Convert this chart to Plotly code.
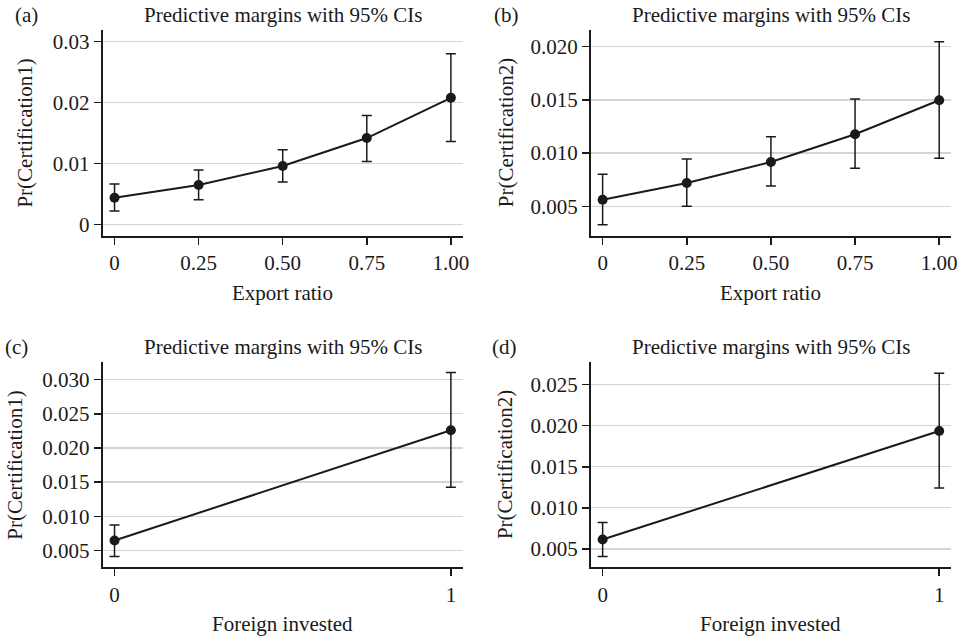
import plotly.graph_objects as go

# ---------------- data ----------------
export_x = [0, 0.25, 0.5, 0.75, 1.0]
export_ticktext = ["0", "0.25", "0.50", "0.75", "1.00"]

a_y = [0.00438, 0.00646, 0.00957, 0.01416, 0.02077]
a_hi = [0.00662, 0.00892, 0.01225, 0.01787, 0.02798]
a_lo = [0.00220, 0.00405, 0.00695, 0.01033, 0.01361]

b_y = [0.00562, 0.00719, 0.00916, 0.01177, 0.01496]
b_hi = [0.00801, 0.00945, 0.01154, 0.01508, 0.02047]
b_lo = [0.00327, 0.00500, 0.00691, 0.00857, 0.00951]

foreign_x = [0, 1]
foreign_ticktext = ["0", "1"]

c_y = [0.00646, 0.02259]
c_hi = [0.00874, 0.03107]
c_lo = [0.00412, 0.01425]

d_y = [0.00614, 0.01936]
d_hi = [0.00821, 0.02640]
d_lo = [0.00408, 0.01242]

a_ticks = [0, 0.01, 0.02, 0.03]
a_ticktext = ["0", "0.01", "0.02", "0.03"]
b_ticks = [0.005, 0.010, 0.015, 0.020]
b_ticktext = ["0.005", "0.010", "0.015", "0.020"]
c_ticks = [0.005, 0.010, 0.015, 0.020, 0.025, 0.030]
c_ticktext = ["0.005", "0.010", "0.015", "0.020", "0.025", "0.030"]
d_ticks = [0.005, 0.010, 0.015, 0.020, 0.025]
d_ticktext = ["0.005", "0.010", "0.015", "0.020", "0.025"]

panel_labels = ["(a)", "(b)", "(c)", "(d)"]
title_text = "Predictive margins with 95% CIs"
y_titles = ["Pr(Certification1)", "Pr(Certification2)", "Pr(Certification1)", "Pr(Certification2)"]
x_titles = ["Export ratio", "Export ratio", "Foreign invested", "Foreign invested"]

# ---------------- layout helpers ----------------
W, H = 973, 642
FONT = "Liberation Serif, Times New Roman, serif"
FS = 21
INK = "#1a1a1a"

def px(x):
    return x / W

def py(y):
    return 1 - y / H

panels = [
    dict(x=export_x, y=a_y, hi=a_hi, lo=a_lo, xt=export_ticktext, yt=a_ticks, ytt=a_ticktext,
         xr=[-0.035, 1.035], yr=[-0.00185, 0.0319],
         dom_x=[103.5, 466], dom_y=[30, 236], lab=(13, 15), ytx=25),
    dict(x=export_x, y=b_y, hi=b_hi, lo=b_lo, xt=export_ticktext, yt=b_ticks, ytt=b_ticktext,
         xr=[-0.0345, 1.0345], yr=[0.00224, 0.02157],
         dom_x=[595.3, 957.7], dom_y=[30, 236], lab=(496, 15), ytx=509),
    dict(x=foreign_x, y=c_y, hi=c_hi, lo=c_lo, xt=foreign_ticktext, yt=c_ticks, ytt=c_ticktext,
         xr=[-0.035, 1.035], yr=[0.00251, 0.03257],
         dom_x=[103.5, 466], dom_y=[362.7, 568.3], lab=(3, 348), ytx=15),
    dict(x=foreign_x, y=d_y, hi=d_hi, lo=d_lo, xt=foreign_ticktext, yt=d_ticks, ytt=d_ticktext,
         xr=[-0.0345, 1.0345], yr=[0.00274, 0.02775],
         dom_x=[595.3, 957.7], dom_y=[362.7, 568.3], lab=(494, 348), ytx=508),
]

fig = go.Figure()
annotations = []
layout_axes = {}

for i, p in enumerate(panels):
    n = i + 1
    xa = "x" if n == 1 else f"x{n}"
    ya = "y" if n == 1 else f"y{n}"
    err_plus = [h - v for h, v in zip(p["hi"], p["y"])]
    err_minus = [v - l for v, l in zip(p["y"], p["lo"])]
    fig.add_trace(go.Scatter(
        x=p["x"], y=p["y"], xaxis=xa, yaxis=ya,
        mode="lines+markers",
        line=dict(color=INK, width=2),
        marker=dict(color=INK, size=10),
        error_y=dict(type="data", symmetric=False, array=err_plus, arrayminus=err_minus,
                     color=INK, thickness=1.5, width=5),
        showlegend=False,
    ))
    xkey = "xaxis" if n == 1 else f"xaxis{n}"
    ykey = "yaxis" if n == 1 else f"yaxis{n}"
    layout_axes[xkey] = dict(
        domain=[px(p["dom_x"][0]), px(p["dom_x"][1])],
        range=p["xr"], anchor=ya,
        tickmode="array", tickvals=p["x"], ticktext=p["xt"],
        ticks="outside", ticklen=7, tickwidth=1.5, tickcolor=INK,
        showline=True, linecolor=INK, linewidth=2,
        showgrid=False, zeroline=False,
        tickfont=dict(family=FONT, size=FS, color=INK),
    )
    layout_axes[ykey] = dict(
        domain=[py(p["dom_y"][1]), py(p["dom_y"][0])],
        range=p["yr"], anchor=xa,
        tickmode="array", tickvals=p["yt"], ticktext=p["ytt"],
        ticks="outside", ticklen=7, tickwidth=1.5, tickcolor=INK,
        showline=True, linecolor=INK, linewidth=2,
        showgrid=True, gridcolor="#d4d4d4", gridwidth=1.3, zeroline=False,
        tickfont=dict(family=FONT, size=FS, color=INK),
    )
    top = p["dom_y"][0]
    bottom = p["dom_y"][1]
    cx = (p["dom_x"][0] + p["dom_x"][1]) / 2
    # panel label
    annotations.append(dict(text=panel_labels[i], x=px(p["lab"][0]), y=py(p["lab"][1]),
                            xref="paper", yref="paper", xanchor="left", yanchor="middle",
                            showarrow=False, font=dict(family=FONT, size=FS, color=INK)))
    # title
    annotations.append(dict(text=title_text, x=px(cx), y=py(top - 15),
                            xref="paper", yref="paper", xanchor="center", yanchor="middle",
                            showarrow=False, font=dict(family=FONT, size=FS, color=INK)))
    # x title
    annotations.append(dict(text=x_titles[i], x=px(cx), y=py(bottom + 57),
                            xref="paper", yref="paper", xanchor="center", yanchor="middle",
                            showarrow=False, font=dict(family=FONT, size=FS, color=INK)))
    # y title
    annotations.append(dict(text=y_titles[i], x=px(p["ytx"]), y=py((top + bottom) / 2),
                            xref="paper", yref="paper", xanchor="center", yanchor="middle",
                            textangle=-90,
                            showarrow=False, font=dict(family=FONT, size=FS, color=INK)))

fig.update_layout(
    width=W, height=H,
    margin=dict(l=0, r=0, t=0, b=0),
    paper_bgcolor="white", plot_bgcolor="white",
    font=dict(family=FONT, size=FS, color=INK),
    annotations=annotations,
    hovermode=False,
    **layout_axes,
)

fig.write_html(
    "out.html",
    config={"displayModeBar": False, "staticPlot": True},
    post_script="document.body.style.margin='0';document.body.style.overflow='hidden';",
)
